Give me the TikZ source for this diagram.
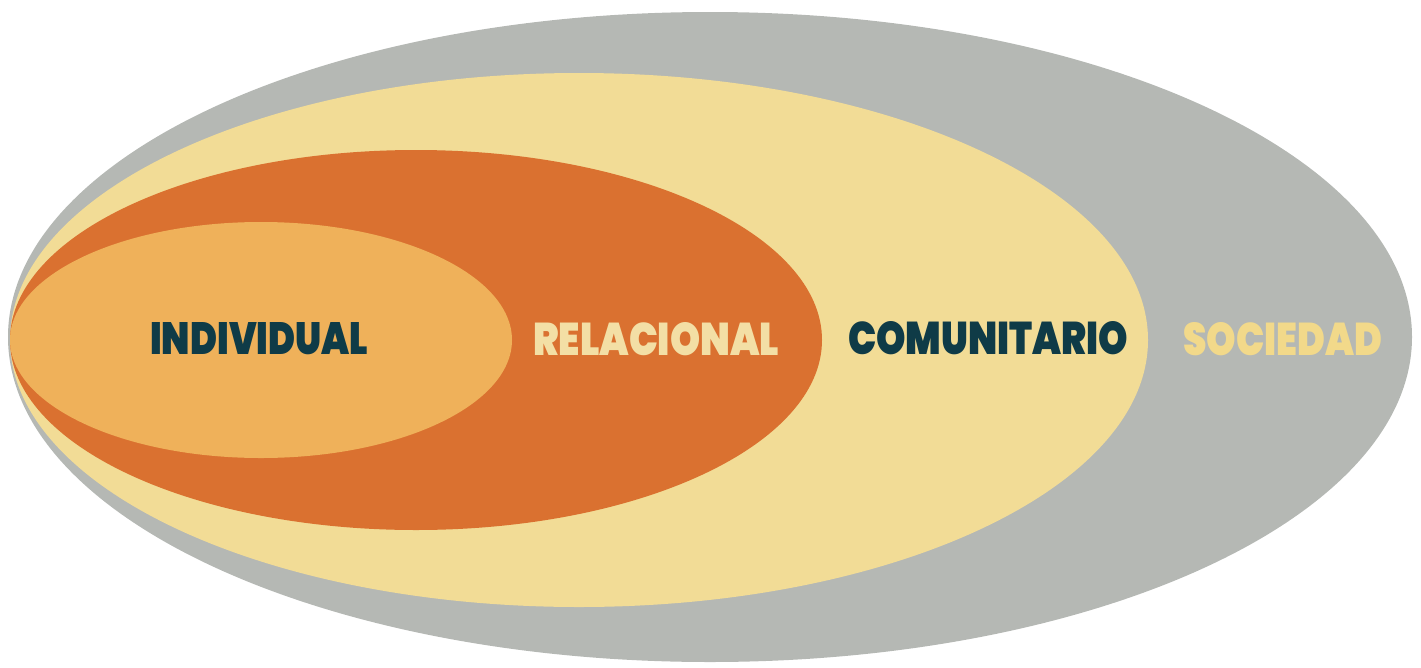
\documentclass[tikz,border=0pt]{standalone}
\usepackage{fontspec}
\IfFontExistsTF{Poppins ExtraBold}
  {\newfontfamily\heavyfont{Poppins ExtraBold}}
  {\newfontfamily\heavyfont{Poppins}[UprightFont=*, BoldFont=*, BoldFeatures={FakeBold=1.5}]}
\usepackage{graphicx}
\definecolor{grayC}{HTML}{B5B8B4}
\definecolor{yellowC}{HTML}{F2DC96}
\definecolor{darkorC}{HTML}{DA7130}
\definecolor{lightorC}{HTML}{EFB15A}
\definecolor{navyT}{HTML}{0F3B47}
\definecolor{creamT}{HTML}{F3DFA5}
\definecolor{yellowT}{HTML}{F2D98A}
\tikzset{
  lbl/.style={inner sep=0pt, anchor=south west, font=\heavyfont\bfseries},
}
\begin{document}
\begin{tikzpicture}[x=1pt,y=-1pt]
\useasboundingbox (0,0) rectangle (1421,667);
% nested ellipses
\fill[grayC] (710,337) ellipse [x radius=702, y radius=325];
\fill[yellowC] (579,340) ellipse [x radius=569, y radius=267];
\fill[darkorC] (416,340) ellipse [x radius=406, y radius=190];
\fill[lightorC] (261,340) ellipse [x radius=251, y radius=118];
% labels
\node[lbl, text=navyT] (individual) at (150,355) {\resizebox{218pt}{32pt}{INDIVIDUAL}};
\node[lbl, text=creamT] (relacional) at (533,356) {\resizebox{246pt}{33pt}{RELACIONAL}};
\node[lbl, text=navyT] (comunitario) at (848,355) {\resizebox{280pt}{33pt}{COMUNITARIO}};
\node[lbl, text=yellowT] (sociedad) at (1183,356) {\resizebox{199pt}{33pt}{SOCIEDAD}};
\end{tikzpicture}
\end{document}
